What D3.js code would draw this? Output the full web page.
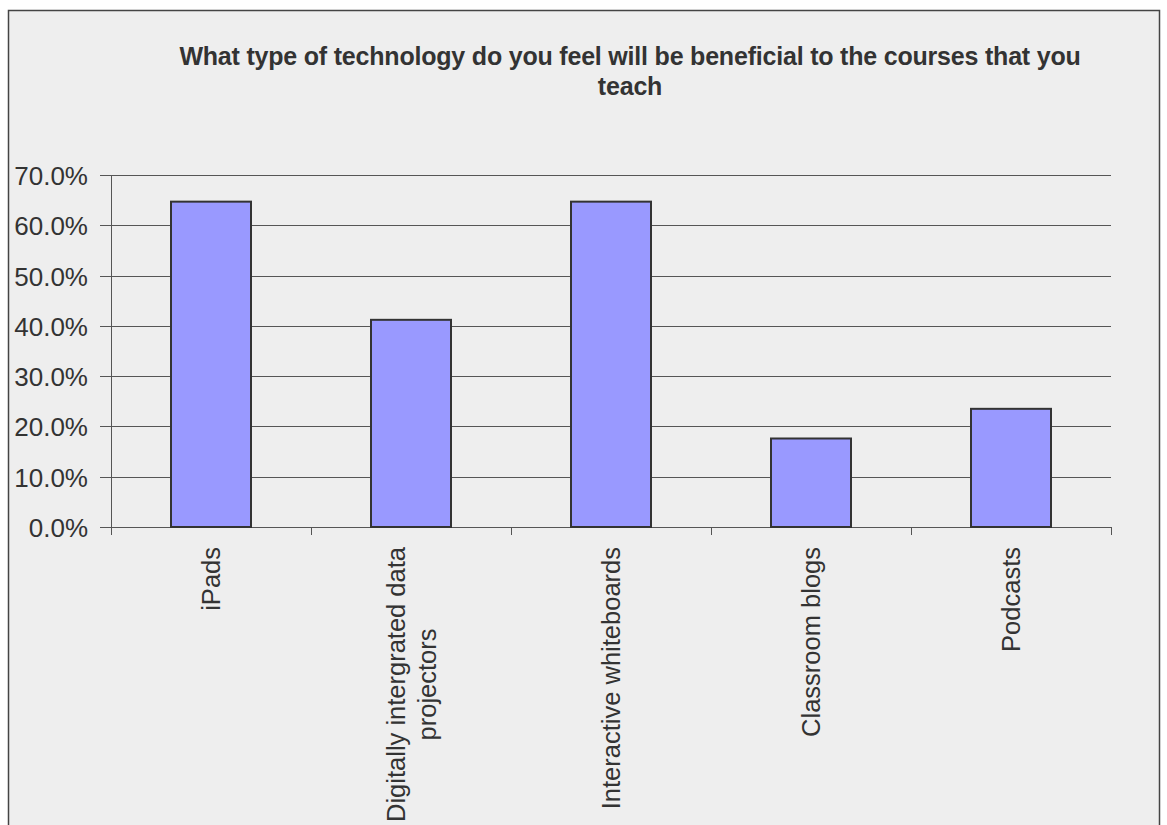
<!doctype html>
<html>
<head>
<meta charset="utf-8">
<script src="https://cdn.jsdelivr.net/npm/d3@7"></script>
<style>
  body { margin:0; background:#fff; }
  text { font-family:"Liberation Sans", Arial, sans-serif; fill:#333; }
</style>
</head>
<body>
<script>
var categories = ['iPads', 'Digitally intergrated data projectors', 'Interactive whiteboards', 'Classroom blogs', 'Podcasts'];
var labelLines = [['iPads'], ['Digitally intergrated data', 'projectors'], ['Interactive whiteboards'], ['Classroom blogs'], ['Podcasts']];
var values = [0.647, 0.412, 0.647, 0.176, 0.235];
var yTicks = [0, 0.1, 0.2, 0.3, 0.4, 0.5, 0.6, 0.7];
var titleLines = ['What type of technology do you feel will be beneficial to the courses that you', 'teach'];

var W = 1167, H = 825;
var svg = d3.select('body').append('svg').attr('width', W).attr('height', H);

svg.append('rect').attr('x', 8.5).attr('y', 10.5).attr('width', 1151).attr('height', 830)
  .attr('fill', '#eeeeee').attr('stroke', '#444').attr('stroke-width', 1.5);

var x = d3.scaleBand().domain(categories).range([111, 1111]).paddingInner(0.6).paddingOuter(0.3);
var y = d3.scaleLinear().domain([0, 0.7]).range([527, 175]);

// gridlines
svg.selectAll('.grid').data(yTicks).enter().append('line')
  .attr('x1', 100).attr('x2', 1111)
  .attr('y1', function(d){ return Math.round(y(d)) + 0.5; })
  .attr('y2', function(d){ return Math.round(y(d)) + 0.5; })
  .attr('stroke', '#555').attr('stroke-width', 1);

svg.selectAll('.ylab').data(yTicks).enter().append('text')
  .attr('x', 88).attr('y', function(d){ return y(d) + 10; })
  .attr('text-anchor', 'end').attr('font-size', 26)
  .text(function(d){ return d3.format('.1%')(d); });

// y axis
svg.append('line').attr('x1', 111.5).attr('x2', 111.5).attr('y1', 175).attr('y2', 527)
  .attr('stroke', '#555');

// x ticks between categories
var step = x.step();
svg.selectAll('.xtick').data(d3.range(categories.length + 1)).enter().append('line')
  .attr('x1', function(i){ return Math.round(111 + i * step) + 0.5; })
  .attr('x2', function(i){ return Math.round(111 + i * step) + 0.5; })
  .attr('y1', 527).attr('y2', 535)
  .attr('stroke', '#555');

svg.selectAll('.bar').data(values).enter().append('rect')
  .attr('x', function(d, i){ return x(categories[i]); })
  .attr('width', x.bandwidth())
  .attr('y', function(d){ return y(d); })
  .attr('height', function(d){ return y(0) - y(d); })
  .attr('fill', '#9999ff').attr('stroke', '#333').attr('stroke-width', 2);

// x labels rotated, first line ends just below the axis
var lab = svg.selectAll('.xlab').data(labelLines).enter().append('text')
  .attr('font-size', 25.5).attr('text-anchor', 'middle')
  .attr('transform', function(d, i){
    var cx = x(categories[i]) + x.bandwidth() / 2;
    return 'translate(' + cx + ',547) rotate(-90)';
  });
lab.each(function(lines){
  var t = d3.select(this);
  var n = lines.length;
  lines.forEach(function(s, j){
    t.append('tspan').attr('y', (j - (n - 1) / 2) * 31 + 9).text(s);
  });
  var w0 = this.querySelector('tspan').getComputedTextLength();
  t.selectAll('tspan').attr('x', -w0 / 2);
});

svg.selectAll('.title').data(titleLines).enter().append('text')
  .attr('x', 630).attr('y', function(d, i){ return 65 + i * 30; })
  .attr('text-anchor', 'middle').attr('font-size', 25).attr('font-weight', 'bold')
  .attr('letter-spacing', -0.2)
  .text(function(d){ return d; });
</script>
</body>
</html>
